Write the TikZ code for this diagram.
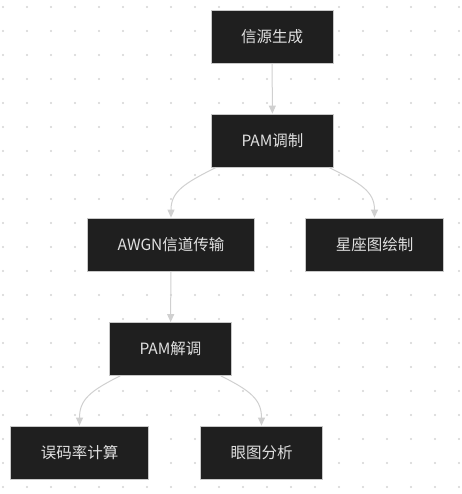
\documentclass[tikz,border=0pt]{standalone}
\usepackage{fontspec}
\usepackage{tikz}
\usepackage{xcolor}
\usetikzlibrary{arrows.meta,calc,positioning}
\setmainfont{Noto Sans CJK SC}
\definecolor{BoxFill}{HTML}{1F1F1F}
\definecolor{BoxLine}{HTML}{C8C8C8}
\definecolor{BoxText}{HTML}{E0E0E0}
\definecolor{EdgeGray}{HTML}{D0D0D0}
\definecolor{DotGray}{HTML}{D4D4D4}
\tikzset{
  flowbox/.style={draw=BoxLine, line width=0.8pt, fill=BoxFill, text=BoxText, align=center, inner xsep=30pt, inner ysep=0pt, minimum height=53pt, font=\fontsize{15.5}{18}\selectfont},
  flowarrow/.style={-{Triangle[length=8pt,width=7pt]}, line width=1pt, draw=EdgeGray}
}

\begin{document}
\begin{tikzpicture}[x=1pt,y=-1pt]
  \path[fill=white] (0,0) rectangle (461,494);
  \foreach \i in {0,...,19} {
    \foreach \j in {0,...,20} {
      \fill[DotGray] (3+24*\i,7+24*\j) circle (1.15pt);
    }
  }
  \node[flowbox] (src) at (272,36.5) {信源生成};
  \node[flowbox] (mod) at (272.5,140.5) {PAM调制};
  \node[flowbox] (chan) at (171,244.5) {AWGN信道传输};
  \node[flowbox] (cons) at (374.5,244.5) {星座图绘制};
  \node[flowbox] (demod) at (170.5,349) {PAM解调};
  \node[flowbox] (ber) at (79.5,452.5) {误码率计算};
  \node[flowbox] (eye) at (261.5,452.5) {眼图分析};
  \foreach \a/\b in {src/mod,chan/demod} {
    \draw[flowarrow] (\a) -- (\b);
  }
  \draw[flowarrow] ($(mod.south west)+(5,0)$) .. controls +(-32,16) and +(0,-26) .. (chan.north);
  \draw[flowarrow] ($(mod.south east)+(-5,0)$) .. controls +(32,16) and +(0,-26) .. (cons.north);
  \draw[flowarrow] ($(demod.south west)+(11,0)$) .. controls +(-30,15) and +(0,-26) .. (ber.north);
  \draw[flowarrow] ($(demod.south east)+(-11,0)$) .. controls +(30,15) and +(0,-26) .. (eye.north);
\end{tikzpicture}
\end{document}
